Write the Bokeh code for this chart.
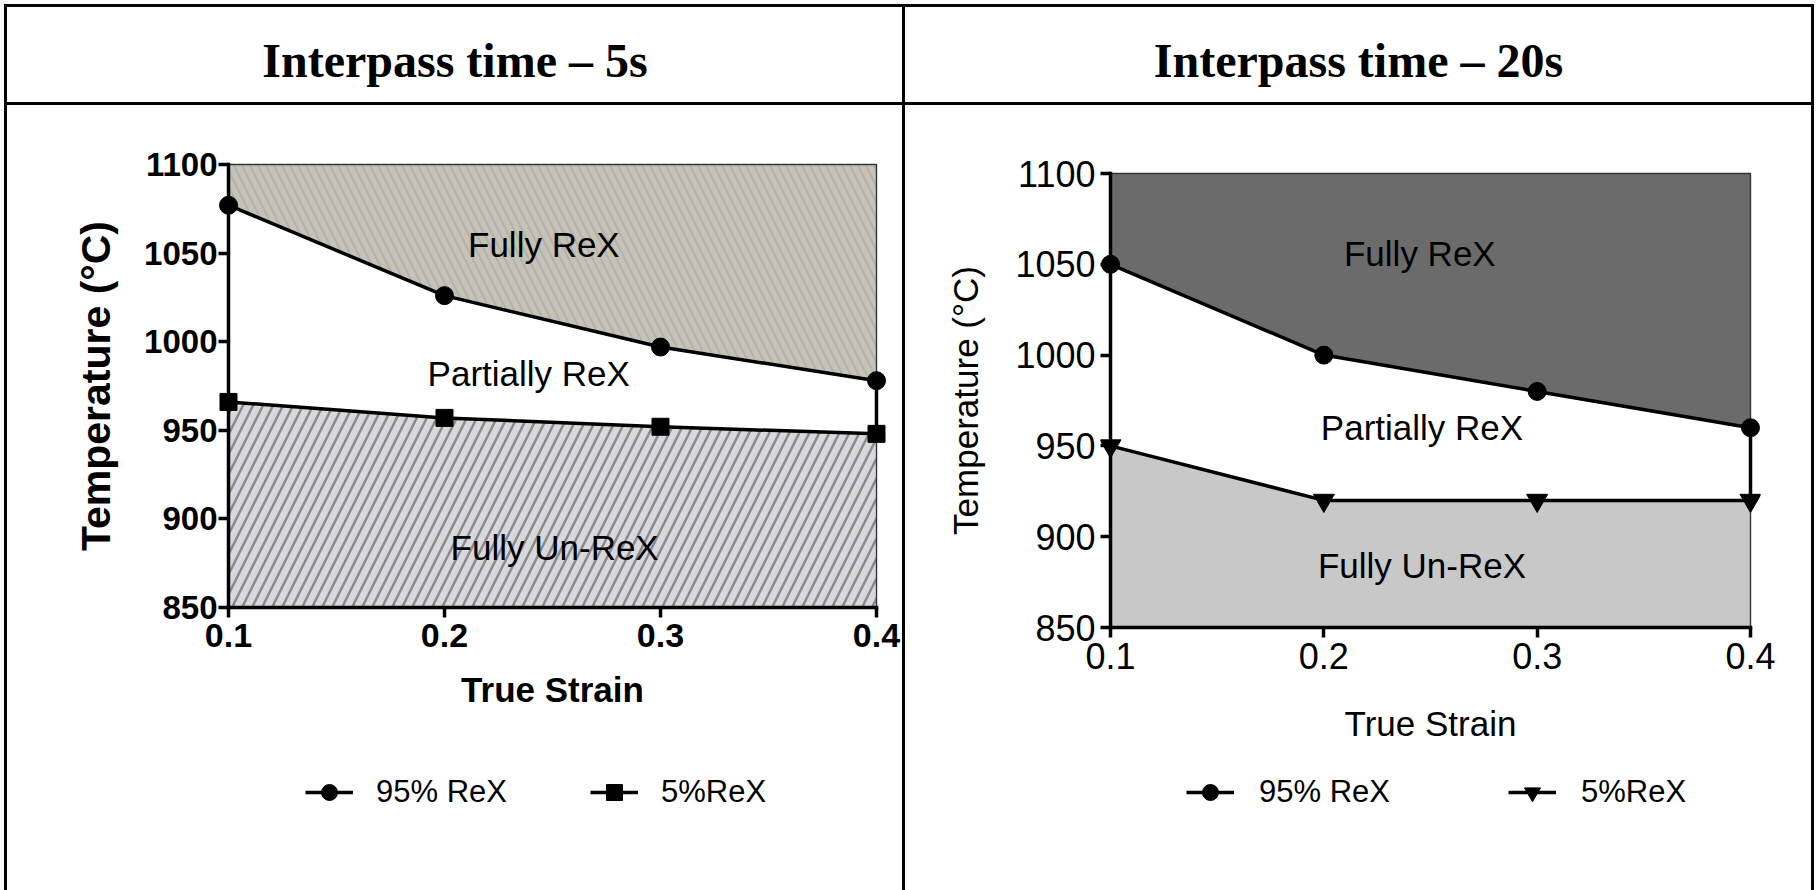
from bokeh.plotting import figure
from bokeh.layouts import row, column
from bokeh.models import Range1d, FixedTicker, Legend, LegendItem, Spacer
from bokeh.core.properties import value
from bokeh.embed import file_html
from bokeh.resources import INLINE

# ---- data -------------------------------------------------------------
strain = [0.1, 0.2, 0.3, 0.4]
strain_ticks = ["0.1", "0.2", "0.3", "0.4"]
temp_ticks = [850, 900, 950, 1000, 1050, 1100]

rex95_5s = [1077, 1026, 997, 978]
rex5_5s = [966, 957, 952, 948]
rex95_20s = [1050, 1000, 980, 960]
rex5_20s = [950, 920, 920, 920]

panel_titles = ["Interpass time \u2013 5s", "Interpass time \u2013 20s"]
region_names = ["Fully ReX", "Partially ReX", "Fully Un-ReX"]
series_names = ["95% ReX", "5%ReX"]
x_label = "True Strain"
y_label = "Temperature (\u00b0C)"

SANS = "Liberation Sans"
SERIF = "Liberation Serif"
PAD = 10         # room kept round the data area so edge markers are whole
AXW = 3.5        # axis / curve stroke width
CHART_H = 660    # chart part of a body cell
KEY_H = 125      # legend strip under each chart


def rule(w, h):
    return Spacer(width=w, height=h, styles={"background-color": "#000000"})


def bare(w, h):
    f = figure(width=w, height=h, x_range=Range1d(0, 1), y_range=Range1d(0, 1),
               output_backend="svg", toolbar_location=None, min_border=0,
               outline_line_color=None, x_axis_type=None, y_axis_type=None,
               background_fill_color="#ffffff", border_fill_color="#ffffff")
    return f


def title_cell(text, w, h):
    t = bare(w, h)
    t.y_range = Range1d(h, 0)
    t.x_range = Range1d(0, w)
    t.text(x=[w / 2], y=[53], text=[text], text_align="center",
           text_baseline="alphabetic", text_font=value(SERIF),
           text_font_style="bold", text_font_size="48px", text_color="#000000")
    return t


def series_marks(f, rex95, rex5, cfg):
    l95 = f.line(strain, rex95, line_color="#000000", line_width=AXW)
    s95 = f.scatter(strain, rex95, marker="circle", size=cfg["msize"],
                    fill_color="#000000", line_color="#000000", line_width=1)
    l5 = f.line(strain, rex5, line_color="#000000", line_width=AXW)
    s5 = f.scatter(strain, rex5, marker=cfg["marker5"], size=cfg["msize5"],
                   fill_color="#000000", line_color="#000000", line_width=1)
    return l95, s95, l5, s5


def key_strip(rex95, rex5, cfg, w):
    k = bare(w, KEY_H)
    # same series styles; their data lie outside this strip's ranges
    l95, s95, l5, s5 = series_marks(k, rex95, rex5, cfg)
    legend = Legend(items=[LegendItem(label=series_names[0], renderers=[l95, s95]),
                           LegendItem(label=series_names[1], renderers=[l5, s5])],
                    orientation="horizontal", location=(cfg["leg_x"], cfg["leg_y"]),
                    glyph_width=48, glyph_height=40, label_height=30,
                    label_standoff=cfg["leg_std"], spacing=cfg["leg_sp"], padding=0,
                    margin=0, border_line_color=None, background_fill_alpha=0,
                    label_text_font=SANS, label_text_font_size="31px",
                    label_text_color="#000000", label_text_baseline="middle")
    k.add_layout(legend)
    return k


def chart(rex95, rex5, cfg, w):
    h = CHART_H
    fl, ft, fw, fh = cfg["frame"]
    x0, x1 = strain[0], strain[-1]
    y0, y1 = temp_ticks[0], temp_ticks[-1]
    ex = PAD * (x1 - x0) / fw
    ey = PAD * (y1 - y0) / fh
    p = figure(width=w, height=h,
               x_range=Range1d(x0 - ex, x1 + ex), y_range=Range1d(y0 - ey, y1 + ey),
               output_backend="svg", toolbar_location=None,
               min_border_left=fl - PAD, min_border_right=w - fl - fw - PAD,
               min_border_top=ft - PAD, min_border_bottom=h - ft - fh - PAD,
               outline_line_color=None, background_fill_color="#ffffff",
               border_fill_color="#ffffff")
    p.grid.visible = False

    # regions
    p.patch(strain + [x1, x0], rex95 + [y1, y1], fill_color=cfg["top_fill"],
            line_color="#333333", line_width=1.4, **cfg["top_hatch"])
    p.patch(strain + [x1, x0], rex5 + [y0, y0], fill_color=cfg["bot_fill"],
            line_color="#333333", line_width=1.4, **cfg["bot_hatch"])

    # axis lines along the data edges
    p.segment(x0=[x0, x0], y0=[y0, y0], x1=[x0, x1], y1=[y1, y0],
              line_color="#000000", line_width=AXW, line_cap="square")

    # boundary curves
    p.segment(x0=[strain[-1]], y0=[rex95[-1]], x1=[strain[-1]], y1=[rex5[-1]],
              line_color="#000000", line_width=AXW)
    series_marks(p, rex95, rex5, cfg)

    # region names
    lx, ly = cfg["labels"]
    p.text(x=lx, y=ly, text=region_names, text_align="center", text_baseline="middle",
           text_font=value(SANS), text_font_size=cfg["region_fs"], text_color="#000000")

    # axes: ticks run from the frame edge to the data edge
    style = cfg["font_style"]
    for ax in (p.xaxis[0], p.yaxis[0]):
        ax.axis_line_color = None
        ax.major_tick_line_width = AXW
        ax.major_tick_line_color = "#000000"
        ax.major_tick_out = 0
        ax.major_tick_in = PAD
        ax.minor_tick_line_color = None
        ax.major_label_text_font = SANS
        ax.major_label_text_font_style = style
        ax.major_label_text_color = "#000000"
        ax.axis_label_text_font = SANS
        ax.axis_label_text_font_style = style
        ax.axis_label_text_color = "#000000"
    p.xaxis.major_label_text_font_size = cfg["xtick_fs"]
    p.yaxis.major_label_text_font_size = cfg["ytick_fs"]
    p.xaxis.axis_label_text_font_size = cfg["xlabel_fs"]
    p.yaxis.axis_label_text_font_size = cfg["ylabel_fs"]
    p.xaxis.ticker = FixedTicker(ticks=strain)
    p.xaxis.major_label_overrides = dict(zip(strain, strain_ticks))
    p.yaxis.ticker = FixedTicker(ticks=temp_ticks)
    p.xaxis.axis_label = x_label
    p.yaxis.axis_label = y_label
    p.xaxis.major_label_standoff = cfg["x_std"]
    p.yaxis.major_label_standoff = cfg["y_std"]
    p.xaxis.axis_label_standoff = cfg["xl_std"]
    p.yaxis.axis_label_standoff = cfg["yl_std"]
    return p


def cell(rex95, rex5, cfg, w):
    return column(chart(rex95, rex5, cfg, w), key_strip(rex95, rex5, cfg, w))


left_cfg = dict(
    frame=(221, 59, 648, 443),
    top_fill="#c7c2b4", bot_fill="#d8d8de",
    top_hatch=dict(hatch_pattern="\\", hatch_color="#b2b2b2", hatch_scale=16, hatch_weight=2),
    bot_hatch=dict(hatch_pattern="/", hatch_color="#8a8a8a", hatch_scale=20, hatch_weight=2.5),
    marker5="square", msize=18, msize5=17,
    labels=([0.246, 0.239, 0.251], [1055, 982, 884]), region_fs="35px",
    font_style="bold", xtick_fs="34px", ytick_fs="33px", xlabel_fs="35px", ylabel_fs="41px",
    x_std=6, y_std=1, xl_std=20, yl_std=22,
    leg_x=87, leg_y=78, leg_std=23, leg_sp=83,
)
right_cfg = dict(
    frame=(205, 68, 640, 454),
    top_fill="#6b6b6b", bot_fill="#c8c8c8",
    top_hatch=dict(), bot_hatch=dict(),
    marker5="inverted_triangle", msize=18, msize5=21,
    labels=([0.245, 0.246, 0.246], [1056, 960, 884]), region_fs="35px",
    font_style="normal", xtick_fs="36px", ytick_fs="36px", xlabel_fs="35px", ylabel_fs="35px",
    x_std=5, y_std=5, xl_std=32, yl_std=27,
    leg_x=86, leg_y=78, leg_std=25, leg_sp=118,
)

left = cell(rex95_5s, rex5_5s, left_cfg, 895)
right = cell(rex95_20s, rex5_20s, right_cfg, 906)

body_h = CHART_H + KEY_H
page = column(
    Spacer(width=1816, height=4),
    row(Spacer(width=4, height=3), rule(1810, 3)),
    row(Spacer(width=4, height=95), rule(3, 95), title_cell(panel_titles[0], 895, 95),
        rule(3, 95), title_cell(panel_titles[1], 906, 95), rule(3, 95)),
    row(Spacer(width=4, height=3), rule(1810, 3)),
    row(Spacer(width=4, height=body_h), rule(3, body_h), left, rule(3, body_h), right,
        rule(3, body_h)),
)

open("out.html", "w").write(file_html(page, INLINE))
